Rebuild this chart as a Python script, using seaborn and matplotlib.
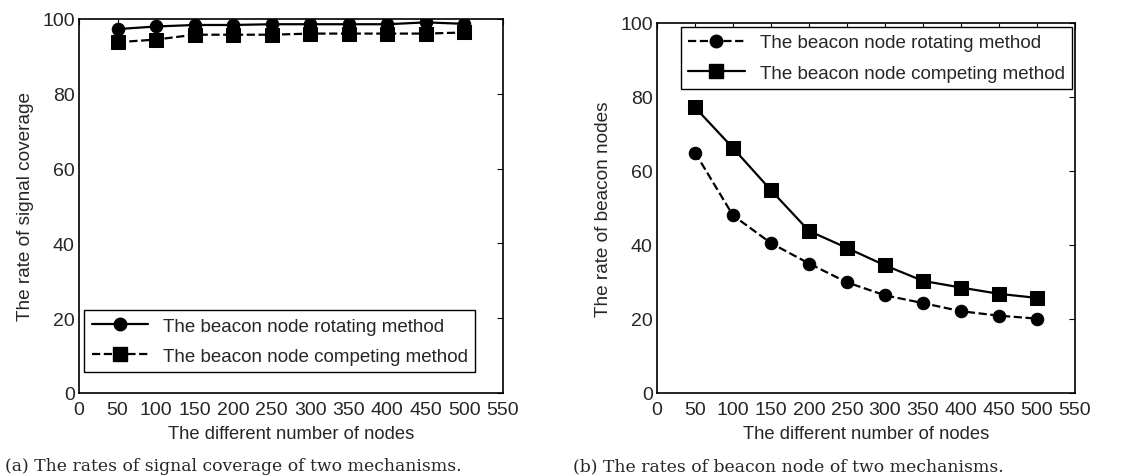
import pandas as pd
import seaborn as sns
import matplotlib.pyplot as plt
from matplotlib.lines import Line2D

nodes = [50, 100, 150, 200, 250, 300, 350, 400, 450, 500]

# (a) signal coverage
cov_rotating = [97.3, 98.0, 98.4, 98.4, 98.6, 98.6, 98.6, 98.6, 99.1, 98.7]
cov_competing = [93.8, 94.5, 95.8, 95.8, 95.8, 96.1, 96.1, 96.1, 96.1, 96.4]

# (b) beacon nodes
bea_rotating = [65.0, 48.0, 40.5, 35.0, 29.9, 26.4, 24.3, 22.1, 20.9, 20.1]
bea_competing = [77.2, 66.2, 54.8, 43.8, 39.2, 34.5, 30.3, 28.5, 26.8, 25.7]

label_rot = 'The beacon node rotating method'
label_comp = 'The beacon node competing method'
captions = ['(a) The rates of signal coverage of two mechanisms.',
            '(b) The rates of beacon node of two mechanisms.']

sns.set_theme(style='white')
plt.rcParams['font.family'] = ['Liberation Sans', 'DejaVu Sans']

fig = plt.figure(figsize=(11.34, 4.77), dpi=100)
ax1 = fig.add_axes([79 / 1134, 1 - 394 / 477, 424 / 1134, 374 / 477])
ax2 = fig.add_axes([657 / 1134, 1 - 394 / 477, 418 / 1134, 370 / 477])


def draw(ax, y, marker, ls, ms):
    df = pd.DataFrame({'x': nodes, 'y': y})
    sns.lineplot(data=df, x='x', y='y', ax=ax, color='black', marker=marker,
                 markersize=ms, linestyle=ls, linewidth=1.6,
                 markeredgecolor='black', legend=False)
    return Line2D([], [], color='black', marker=marker, markersize=ms,
                  linestyle=ls, linewidth=1.6)


h1 = draw(ax1, cov_rotating, 'o', '-', 9)
h2 = draw(ax1, cov_competing, 's', '--', 9.5)
g1 = draw(ax2, bea_rotating, 'o', '--', 9)
g2 = draw(ax2, bea_competing, 's', '-', 10)

for ax in (ax1, ax2):
    ax.set_xlim(0, 550)
    ax.set_ylim(0, 100)
    ax.set_xticks(range(0, 551, 50))
    ax.set_yticks(range(0, 101, 20))
    ax.tick_params(direction='in', top=True, right=True, length=4,
                   width=0.8, color='black', labelsize=14)
    ax.tick_params(axis='x', pad=6)
    ax.tick_params(axis='y', pad=3)
    for s in ax.spines.values():
        s.set_color('black')
        s.set_linewidth(1.2)
    ax.set_xlabel('The different number of nodes', fontsize=13.2, labelpad=5)

ax1.set_ylabel('The rate of signal coverage', fontsize=13.7, labelpad=6)
ax2.set_ylabel('The rate of beacon nodes', fontsize=13.7, labelpad=6)

leg1 = ax1.legend([h1, h2], [label_rot, label_comp], loc='lower left',
                  bbox_to_anchor=(0.012, 0.055), fontsize=13.5,
                  fancybox=False, edgecolor='black', handlelength=3,
                  labelspacing=0.7, borderaxespad=0, framealpha=1)
leg2 = ax2.legend([g1, g2], [label_rot, label_comp], loc='upper right',
                  bbox_to_anchor=(0.993, 0.99), fontsize=13.5,
                  fancybox=False, edgecolor='black', handlelength=3,
                  labelspacing=0.7, borderaxespad=0, framealpha=1)
for leg in (leg1, leg2):
    leg.get_frame().set_linewidth(1.0)

fig.text(5 / 1134, 1 - 467 / 477, captions[0], family='DejaVu Serif',
         fontsize=12.4, va='center')
fig.text(573 / 1134, 1 - 467 / 477, captions[1], family='DejaVu Serif',
         fontsize=12.4, va='center')

fig.savefig('out.png', dpi=100)
